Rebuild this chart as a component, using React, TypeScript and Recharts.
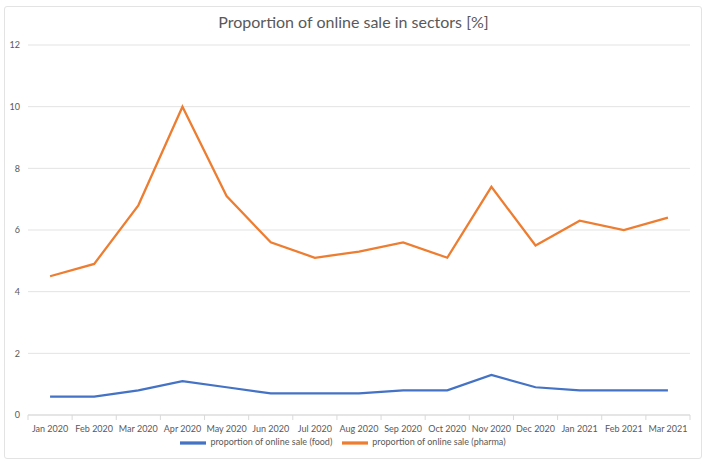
import { LineChart, Line, XAxis, YAxis, CartesianGrid, Legend } from "recharts";

const months = [
  "Jan 2020", "Feb 2020", "Mar 2020", "Apr 2020", "May 2020", "Jun 2020", "Jul 2020", "Aug 2020",
  "Sep 2020", "Oct 2020", "Nov 2020", "Dec 2020", "Jan 2021", "Feb 2021", "Mar 2021",
];
const foodShare = [0.6, 0.6, 0.8, 1.1, 0.9, 0.7, 0.7, 0.7, 0.8, 0.8, 1.3, 0.9, 0.8, 0.8, 0.8];
const pharmaShare = [4.5, 4.9, 6.8, 10.0, 7.1, 5.6, 5.1, 5.3, 5.6, 5.1, 7.4, 5.5, 6.3, 6.0, 6.4];
const yTicks = [0, 2, 4, 6, 8, 10, 12];

const data = months.map((m, i) => ({ month: m, food: foodShare[i], pharma: pharmaShare[i] }));

const W = 707;
const H = 465;
const FONT = "Lato, 'Open Sans', sans-serif";
const TEXT = "#595959";
const PLOT_LEFT = 28;
const PLOT_RIGHT = 17;
const band = (W - PLOT_LEFT - PLOT_RIGHT) / months.length;

// ticks sit between categories, like the spreadsheet original
function MonthTick(props: any) {
  const { x, y, payload, index } = props;
  const left = x - band / 2;
  return (
    <g>
      <line x1={left} y1={y - 8} x2={left} y2={y - 3} stroke="#d9d9d9" />
      {index === months.length - 1 && (
        <line x1={left + band} y1={y - 8} x2={left + band} y2={y - 3} stroke="#d9d9d9" />
      )}
      <text x={x} y={y + 9} textAnchor="middle" fill={TEXT} fontSize={9} fontFamily={FONT}>
        {payload.value}
      </text>
    </g>
  );
}

export default function App() {
  return (
    <div style={{ position: "absolute", left: 0, top: 0, width: W, height: H, background: "#fff" }}>
      <div
        style={{
          position: "absolute",
          left: 4,
          top: 6,
          width: 698,
          height: 453,
          border: "1px solid #e3e3e3",
          borderRadius: 3,
          boxSizing: "border-box",
        }}
      />
      <div
        style={{
          position: "absolute",
          top: 12,
          width: W,
          textAlign: "center",
          fontFamily: FONT,
          fontSize: 16,
          color: TEXT,
        }}
      >
        Proportion of online sale in sectors [%]
      </div>
      <LineChart
        width={W}
        height={H}
        data={data}
        margin={{ top: 45, right: PLOT_RIGHT, bottom: 17, left: 6 }}
      >
        <CartesianGrid vertical={false} stroke="#e3e3e3" />
        <XAxis
          dataKey="month"
          axisLine={{ stroke: "#d9d9d9" }}
          tickLine={false}
          tick={<MonthTick />}
          interval={0}
          height={15}
          padding={{ left: band / 2, right: band / 2 }}
        />
        <YAxis
          domain={[0, 12]}
          ticks={yTicks}
          width={22}
          axisLine={false}
          tickLine={false}
          tick={{ fill: TEXT, fontSize: 9, fontFamily: FONT }}
        />
        <Legend
          verticalAlign="bottom"
          height={18}
          iconType="plainline"
          iconSize={26}
          wrapperStyle={{ fontSize: 9, fontFamily: FONT, color: TEXT }}
          formatter={(v) => <span style={{ color: TEXT }}>{v}</span>}
        />
        <Line
          dataKey="food"
          name="proportion of online sale (food)"
          stroke="#4472c4"
          strokeWidth={2.25}
          dot={false}
          isAnimationActive={false}
        />
        <Line
          dataKey="pharma"
          name="proportion of online sale (pharma)"
          stroke="#ed7d31"
          strokeWidth={2.25}
          dot={false}
          isAnimationActive={false}
        />
      </LineChart>
    </div>
  );
}
